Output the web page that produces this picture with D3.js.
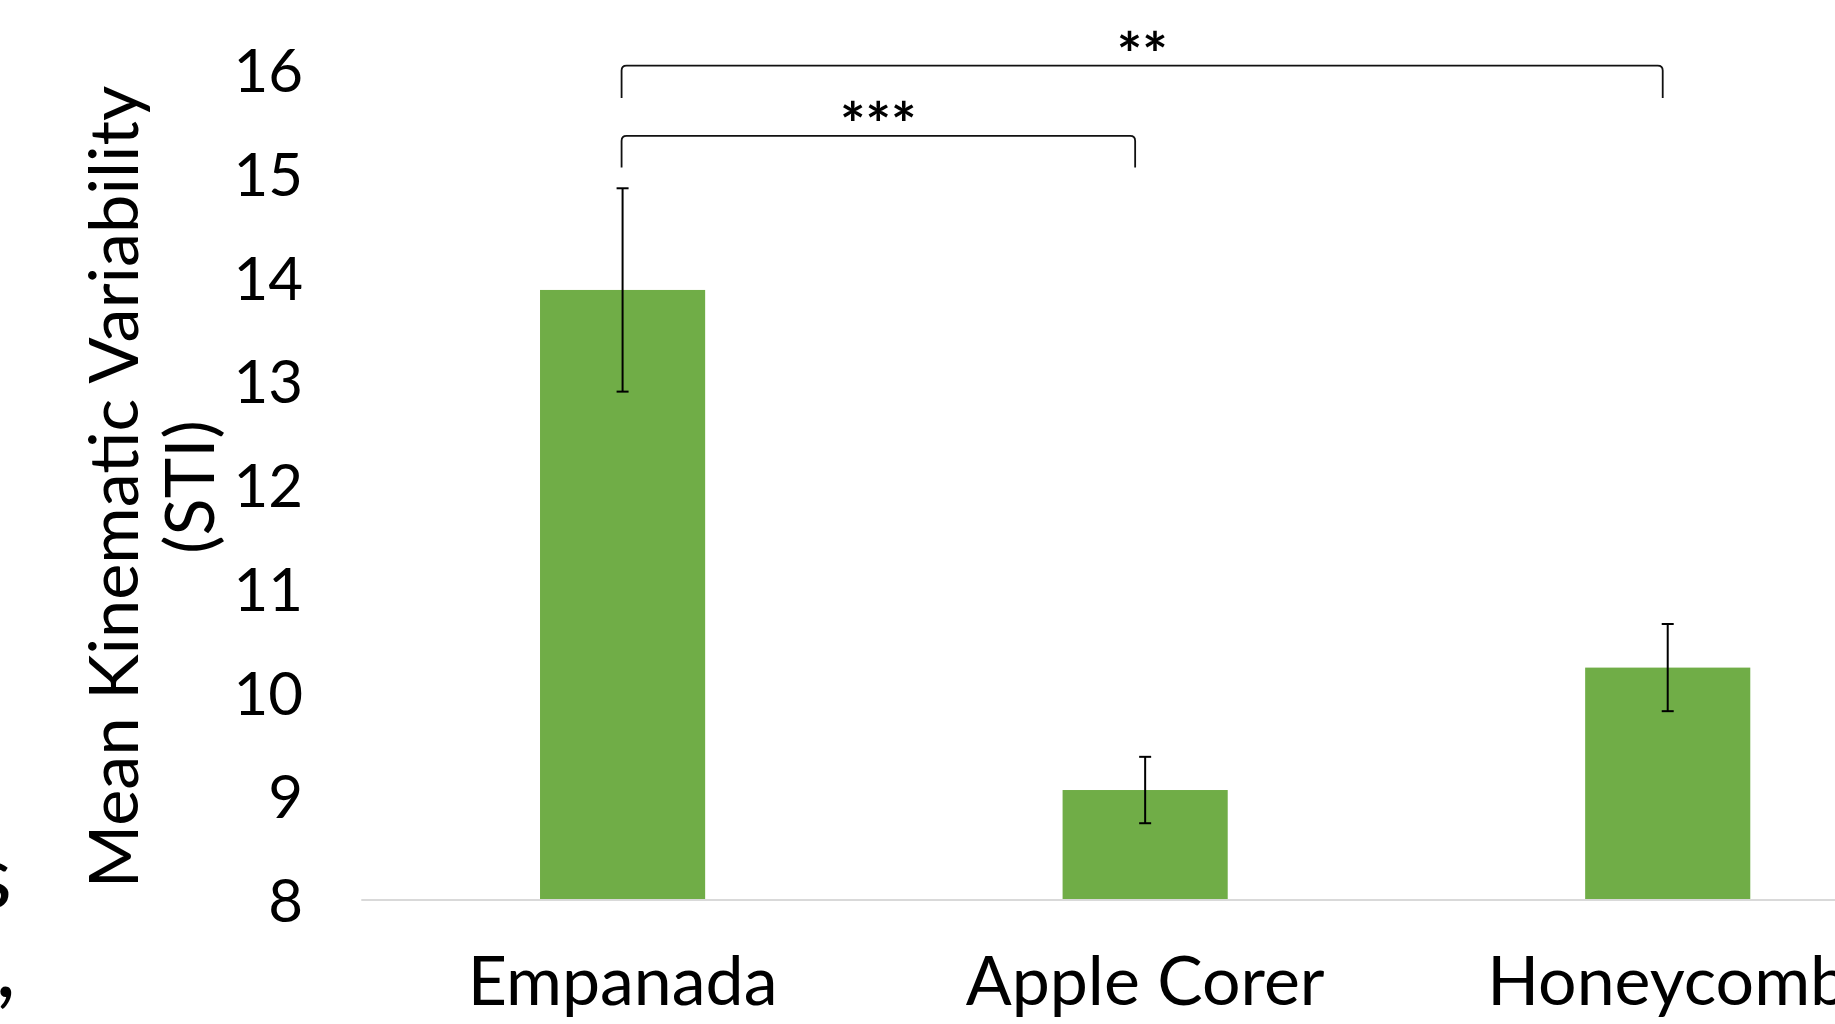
<!DOCTYPE html>
<html>
<head>
<meta charset="utf-8">
<script src="https://cdn.jsdelivr.net/npm/d3@7"></script>
<style>
  html, body { margin: 0; padding: 0; background: #fff; overflow: hidden; }
  svg { display: block; }
  text { font-family: Lato, "Open Sans", sans-serif; fill: #000; }
</style>
</head>
<body>
<svg id="chart" width="1835" height="1024"></svg>
<script>
// ---- data ----
const categories = ["Empanada", "Apple Corer", "Honeycomb"];
const means = [13.88, 9.06, 10.24];
const errors = [0.98, 0.32, 0.42];
const yTicks = [8, 9, 10, 11, 12, 13, 14, 15, 16];
const yTitleLines = ["Mean Kinematic Variability", "(STI)"];
// significance brackets: from category index, to category index, top level, leg bottom level, label
const bracketFrom = [0, 0];
const bracketTo = [1, 2];
const bracketTop = [15.365, 16.043];
const bracketLeg = [15.06, 15.73];
const bracketLabels = ["***", "**"];
// clipped text fragments at the left edge
const edgeFragments = ["s", ","];

// ---- layout ----
const W = 1835, H = 1024;
const svg = d3.select("#chart");

const x = d3.scaleBand()
  .domain(categories)
  .range([361.3, 1929])
  .paddingInner(0.684)
  .paddingOuter(0.342);

const y = d3.scaleLinear().domain([8, 16]).range([900, 70]);

const rows = categories.map((c, i) => ({ c, m: means[i], e: errors[i] }));

// bars
svg.append("g").selectAll("rect").data(rows).join("rect")
  .attr("x", d => x(d.c))
  .attr("y", d => y(d.m))
  .attr("width", x.bandwidth())
  .attr("height", d => y(8) - y(d.m))
  .attr("fill", "#70AD47");

// x axis baseline
const xAxis = d3.axisBottom(x).tickSize(0).tickPadding(0).tickFormat("");
const gx = svg.append("g").attr("transform", `translate(0,${y(8)})`).call(xAxis);
gx.select(".domain").attr("d", `M${x.range()[0]},0H${W + 5}`)
  .attr("stroke", "#D9D9D9").attr("stroke-width", 2);

// category labels
svg.append("g").selectAll("text").data(categories).join("text")
  .attr("x", d => x(d) + x.bandwidth() / 2)
  .attr("y", 1005)
  .attr("text-anchor", "middle")
  .attr("font-size", 68)
  .text(d => d);

// y axis tick labels
const yAxis = d3.axisLeft(y).tickValues(yTicks).tickSize(0).tickPadding(0);
const gy = svg.append("g").attr("transform", "translate(303,0)").call(yAxis);
gy.select(".domain").remove();
gy.selectAll("text")
  .attr("font-size", 60)
  .attr("font-family", "Lato, 'Open Sans', sans-serif")
  .attr("fill", "#000")
  .attr("dy", "0.36em")
  .attr("x", 0);

// y title
const yt = svg.append("text")
  .attr("transform", "translate(0,487) rotate(-90)")
  .attr("text-anchor", "middle")
  .attr("font-size", 68.5);
yt.selectAll("tspan").data(yTitleLines).join("tspan")
  .attr("x", 0)
  .attr("y", (d, i) => 138 + i * 76)
  .text(d => d);

// error bars
const eb = svg.append("g").attr("stroke", "#000").attr("stroke-width", 2);
rows.forEach(d => {
  const cx = x(d.c) + x.bandwidth() / 2;
  eb.append("line").attr("x1", cx).attr("x2", cx).attr("y1", y(d.m + d.e)).attr("y2", y(d.m - d.e));
  eb.append("line").attr("x1", cx - 6).attr("x2", cx + 6).attr("y1", y(d.m + d.e)).attr("y2", y(d.m + d.e));
  eb.append("line").attr("x1", cx - 6).attr("x2", cx + 6).attr("y1", y(d.m - d.e)).attr("y2", y(d.m - d.e));
});

// significance brackets
const bg = svg.append("g");
const rightTrim = [10, 5];
bracketLabels.forEach((lab, i) => {
  const x1 = x(categories[bracketFrom[i]]) + x.bandwidth() / 2 - 1;
  const x2 = x(categories[bracketTo[i]]) + x.bandwidth() / 2 - rightTrim[i];
  const yt0 = y(bracketTop[i]), yb = y(bracketLeg[i]);
  const r = 5;
  bg.append("path")
    .attr("d", `M${x1},${yb}L${x1},${yt0 + r}Q${x1},${yt0} ${x1 + r},${yt0}L${x2 - r},${yt0}Q${x2},${yt0} ${x2},${yt0 + r}L${x2},${yb}`)
    .attr("fill", "none").attr("stroke", "#111").attr("stroke-width", 1.8);
  bg.append("text")
    .attr("x", (x1 + x2) / 2)
    .attr("y", yt0 + 10)
    .attr("text-anchor", "middle")
    .attr("font-size", 60)
    .attr("font-weight", "bold")
    .text(lab);
});

// clipped fragments at left edge
svg.append("text").attr("x", 12).attr("y", 908).attr("text-anchor", "end")
  .attr("font-size", 90).text(edgeFragments[0]);
svg.append("text").attr("x", 16).attr("y", 997).attr("text-anchor", "end")
  .attr("font-size", 90).text(edgeFragments[1]);
</script>
</body>
</html>
